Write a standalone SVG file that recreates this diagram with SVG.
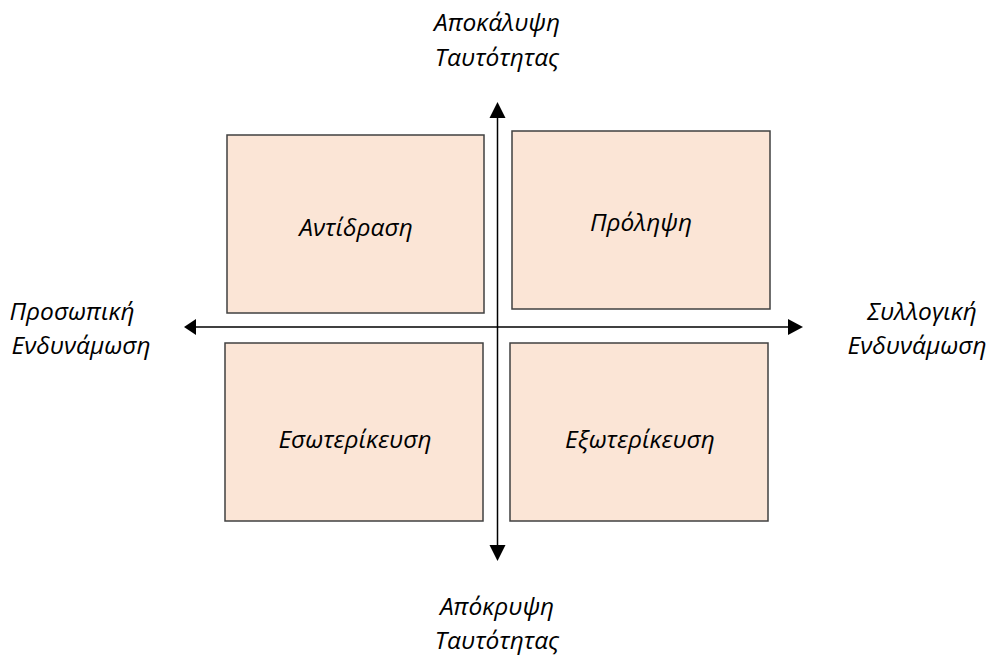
<svg xmlns="http://www.w3.org/2000/svg" width="998" height="657" viewBox="0 0 998 657">
<defs>
<style>
.box{fill:#FBE5D6;stroke:#404040;stroke-width:1.5}
.ax{stroke:#000;stroke-width:1.5;fill:none}
.hd{fill:#000}
text{font-family:"Open Sans","Noto Sans",sans-serif;font-style:italic;font-size:24.5px;fill:#000;text-anchor:middle}
</style>
</defs>
<g id="connectors">
<line class="ax" x1="497.5" y1="110" x2="497.5" y2="553"/>
<polygon class="hd" points="497.5,102 489.5,118 505.5,118"/>
<polygon class="hd" points="497.5,561 489.5,545 505.5,545"/>
<line class="ax" x1="190" y1="327" x2="795" y2="327"/>
<polygon class="hd" points="184,327 196,319 196,335"/>
<polygon class="hd" points="803,327 788,319 788,335"/>
</g>
<g id="top-label"><text x="497" y="31">Αποκάλυψη</text><text x="497" y="66">Ταυτότητας</text></g>
<g id="bottom-label"><text x="497" y="615">Απόκρυψη</text><text x="497" y="649">Ταυτότητας</text></g>
<g id="left-label"><text x="72" y="320">Προσωπική</text><text x="81" y="354">Ενδυνάμωση</text></g>
<g id="right-label"><text x="922" y="320">Συλλογική</text><text x="917" y="354">Ενδυνάμωση</text></g>
<g id="node-antidrasi"><rect class="box" x="227" y="135" width="257" height="178"/><text x="356" y="236">Αντίδραση</text></g>
<g id="node-prolipsi"><rect class="box" x="512" y="131" width="258" height="178"/><text x="641" y="231">Πρόληψη</text></g>
<g id="node-esoterikeusi"><rect class="box" x="225" y="343" width="258" height="178"/><text x="355" y="448">Εσωτερίκευση</text></g>
<g id="node-exoterikeusi"><rect class="box" x="510" y="343" width="258" height="178"/><text x="640" y="448">Εξωτερίκευση</text></g>
</svg>
